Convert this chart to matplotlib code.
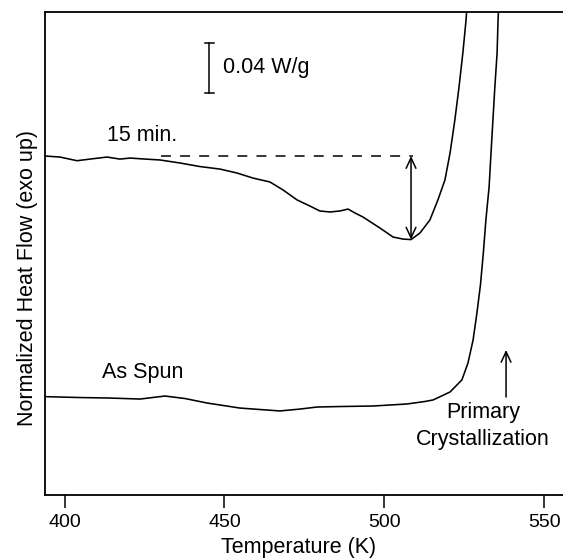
import matplotlib
matplotlib.use("Agg")
import matplotlib.pyplot as plt

plt.rcParams['font.family'] = ['Liberation Sans', 'DejaVu Sans']

# 15 min. annealed curve (Temperature K, heat flow W/g, arbitrary offset)
t15 = [394.0, 398.6, 403.9, 408.0, 413.3, 417.3, 420.5, 425.2, 429.8, 436.1,
       442.3, 448.6, 453.9, 458.9, 464.2, 468.3, 472.7, 476.7, 479.8, 483.0,
       486.1, 488.6, 490.8, 493.3, 498.6, 502.7, 505.8, 508.3, 511.1, 514.2,
       516.7, 518.9, 520.5, 522.0, 523.3, 524.5, 525.5, 525.9]
h15 = [0.2678, 0.2670, 0.2641, 0.2654, 0.2670, 0.2654, 0.2662, 0.2654, 0.2647, 0.2623,
       0.2595, 0.2575, 0.2544, 0.2504, 0.2473, 0.2410, 0.2331, 0.2283, 0.2244, 0.2236,
       0.2244, 0.2259, 0.2228, 0.2196, 0.2109, 0.2038, 0.2022, 0.2018, 0.2070, 0.2173,
       0.2331, 0.2489, 0.2702, 0.2963, 0.3223, 0.3492, 0.3753, 0.3910]

# As spun curve
tas = [394.0, 404.8, 414.2, 423.6, 431.4, 437.7, 444.5, 454.8, 467.3, 473.6,
       478.9, 486.1, 496.4, 507.0, 512.7, 515.2, 520.5, 524.2, 526.1, 527.7,
       528.9, 530.0, 530.9, 531.7, 532.7, 533.3, 533.9, 534.5, 535.2, 535.5, 535.8]
has = [0.0777, 0.0770, 0.0766, 0.0758, 0.0782, 0.0762, 0.0727, 0.0687, 0.0664, 0.0679,
       0.0695, 0.0699, 0.0703, 0.0719, 0.0739, 0.0751, 0.0814, 0.0909, 0.1043, 0.1225,
       0.1438, 0.1660, 0.1912, 0.2173, 0.2433, 0.2702, 0.2963, 0.3223, 0.3492, 0.3753, 0.3910]

xticks = [400, 450, 500, 550]

fig = plt.figure(figsize=(5.63, 5.58), dpi=100)
ax = fig.add_axes([45/563, 1 - 495/558, 1 - 45/563, (495 - 12)/558])
ax.set_xlim(393.9, 555.8)
ax.set_ylim(0, 0.3816)

lw = 1.15
ax.plot(t15, h15, color='black', lw=lw)
ax.plot(tas, has, color='black', lw=lw)

for s in ['left', 'bottom', 'top']:
    ax.spines[s].set_linewidth(1.3)
ax.spines['right'].set_visible(False)

ax.set_xticks(xticks)
ax.set_xticklabels([str(v) for v in xticks], fontsize=14)
ax.tick_params(axis='x', direction='out', length=9.5, width=1.1, pad=4)
ax.set_yticks([])

fig.text(299/563, 1 - 547/558, 'Temperature (K)', ha='center', va='center', fontsize=15.5)
fig.text(28/563, 1 - 278/558, 'Normalized Heat Flow (exo up)', ha='center', va='center',
         rotation=90, fontsize=15.5)

# scale bar
ax.plot([445.2, 445.2], [0.3176, 0.3571], color='black', lw=1.1)
ax.plot([443.8, 446.6], [0.3176, 0.3176], color='black', lw=1.1)
ax.plot([443.8, 446.6], [0.3571, 0.3571], color='black', lw=1.1)
ax.text(449.5, 0.3381, '0.04 W/g', ha='left', va='center', fontsize=15.5)

ax.text(413.3, 0.2844, '15 min.', ha='left', va='center', fontsize=15.5)
ax.plot([430.2, 508.9], [0.2678, 0.2678], color='black', lw=1.1, dashes=(6.5, 6))
ax.annotate('', xy=(508.3, 0.2018), xytext=(508.3, 0.2678),
            arrowprops=dict(arrowstyle='<->,head_length=0.75,head_width=0.35',
                            color='black', lw=1.1, shrinkA=0, shrinkB=0))

ax.text(411.7, 0.0964, 'As Spun', ha='left', va='center', fontsize=15.5)
ax.annotate('', xy=(538.0, 0.1146), xytext=(538.0, 0.0774),
            arrowprops=dict(arrowstyle='->,head_length=0.75,head_width=0.35',
                            color='black', lw=1.1, shrinkA=0, shrinkB=0))
ax.text(530.8, 0.0648, 'Primary', ha='center', va='center', fontsize=15.5)
ax.text(530.8, 0.0435, 'Crystallization', ha='center', va='center', fontsize=15.5)

fig.savefig('out.png', dpi=100)
